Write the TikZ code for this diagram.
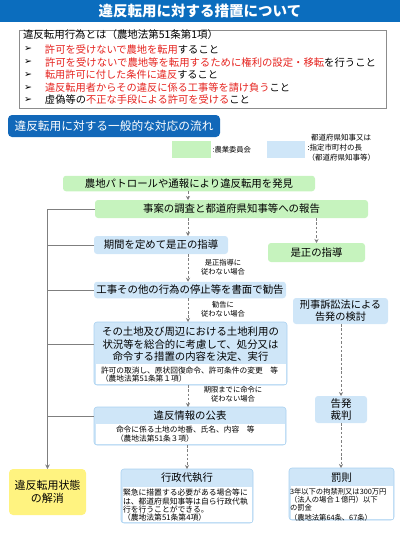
\documentclass[tikz,border=0pt]{standalone}
\usepackage{graphicx}
\usepackage{fontspec}
\setmainfont{Noto Sans CJK JP}
\newfontfamily\dejavu{DejaVu Sans}
\usetikzlibrary{arrows.meta}
\definecolor{barblue}{HTML}{0B6DBE}
\definecolor{hdblue}{HTML}{1268B9}
\definecolor{lgreen}{HTML}{C6F3BE}
\definecolor{lblue}{HTML}{CFE6F8}
\definecolor{bborder}{HTML}{A9D1F0}
\definecolor{lyellow}{HTML}{FFF380}
\definecolor{arrgray}{HTML}{7F7F7F}
\definecolor{framegray}{HTML}{8C8C8C}
\definecolor{redtxt}{HTML}{E5231F}
\newcommand\fitw[2]{\resizebox{#1pt}{!}{#2}}
\begin{document}
\begin{tikzpicture}[x=1pt,y=-1pt,
  every node/.style={inner sep=0pt, outer sep=0pt},
  gbox/.style={fill=lgreen, rounded corners=3pt, align=center},
  bbox/.style={fill=lblue, rounded corners=3pt, align=center},
  cbox/.style={fill=lblue, draw=bborder, line width=0.6pt, rounded corners=3pt},
  mid/.style={font=\fontsize{10.4}{12.5}\selectfont},
  hd/.style={font=\fontsize{10.3}{12}\selectfont, anchor=west},
  bul/.style={font=\dejavu\fontsize{9.5}{10}\selectfont, anchor=west},
  small/.style={font=\fontsize{7.7}{8.4}\selectfont, align=left, anchor=west},
  lbl/.style={font=\fontsize{7.3}{8.8}\selectfont, align=center},
  darr/.style={draw=arrgray, line width=0.8pt, dash pattern=on 2.5pt off 1.8pt, -{Stealth[length=4pt,width=4pt]}},
  sline/.style={draw=arrgray, line width=1pt},
]
\useasboundingbox (0,0) rectangle (400,533);
\coordinate (c188) at (188,0);
% title bar
\fill[barblue] (0,0) rectangle (400,21.5);
\node[text=white, font=\fontsize{14.5}{16}\selectfont\bfseries] (title) at (200,11) {違反転用に対する措置について};
% definition box
\node[draw=framegray, line width=0.8pt, minimum width=367pt, minimum height=78pt] (defbox) at (202.5,69) {};
\node[hd] (d0) at (23,35) {\fitw{195}{違反転用行為とは（農地法第51条第1項）}};
\node[bul] (b1) at (24,49.3) {➢};
\node[bul] (b2) at (24,62.3) {➢};
\node[bul] (b3) at (24,75) {➢};
\node[bul] (b4) at (24,87.5) {➢};
\node[bul] (b5) at (24,100) {➢};
\node[hd] (d1) at (45,49.3) {\fitw{174}{\textcolor{redtxt}{許可を受けないで農地を転用}すること}};
\node[hd] (d2) at (45,62.3) {\fitw{331}{\textcolor{redtxt}{許可を受けないで農地等を転用するために権利の設定・移転}を行うこと}};
\node[hd] (d3) at (45,75) {\fitw{173}{\textcolor{redtxt}{転用許可に付した条件に違反}すること}};
\node[hd] (d4) at (45,87.5) {\fitw{245}{\textcolor{redtxt}{違反転用者からその違反に係る工事等を請け負う}こと}};
\node[hd] (d5) at (45,100) {\fitw{205}{虚偽等の\textcolor{redtxt}{不正な手段による許可を受ける}こと}};
% section header
\node[fill=hdblue, rounded corners=4pt, minimum width=212pt, minimum height=22pt, text=white, font=\fontsize{11.7}{13}\selectfont] (flow) at (114,126) {違反転用に対する一般的な対応の流れ};
% legend
\node[fill=lgreen, minimum width=39pt, minimum height=17pt] (legG) at (191.5,149.5) {};
\node[font=\fontsize{7.3}{9}\selectfont, anchor=west] (legGt) at (212.5,150) {:農業委員会};
\node[fill=lblue, minimum width=38pt, minimum height=17pt] (legB) at (286,149.5) {};
\node[font=\fontsize{7.5}{10}\selectfont, align=left, anchor=west] (legBt) at (307.5,148) {\hspace{3.5pt}都道府県知事又は\\:指定市町村の長\\（都道府県知事等）};
% flow boxes
\node[gbox, mid, minimum width=252pt, minimum height=15.5pt] (find) at (189,183.5) {農地パトロールや通報により違反転用を発見};
\node[gbox, mid, minimum width=273pt, minimum height=18pt] (survey) at (231.5,209) {事案の調査と都道府県知事等への報告};
\node[bbox, mid, minimum width=134pt, minimum height=18pt] (guide) at (161,245) {期間を定めて是正の指導};
\node[gbox, mid, minimum width=97pt, minimum height=19pt] (correct) at (316.5,252.5) {是正の指導};
\node[bbox, mid, minimum width=192pt, minimum height=16.5pt] (recommend) at (190,290) {工事その他の行為の停止等を書面で勧告};
\node[bbox, font=\fontsize{10.2}{11.8}\selectfont, minimum width=95pt, minimum height=26pt] (criminal) at (340.5,311) {刑事訴訟法による\\告発の検討};
% decision composite
\node[cbox, minimum width=193pt, minimum height=63pt] (decision) at (190.5,353.5) {};
\fill[white] (95.5,364) rectangle (285.5,384);
\node[mid, align=center] (decisionT) at (190.5,344.5) {その土地及び周辺における土地利用の\\状況等を総合的に考慮して、処分又は\\命令する措置の内容を決定、実行};
\node[small] (decisionN) at (101,374.5) {許可の取消し、原状回復命令、許可条件の変更　等\\（農地法第51条第１項）};
% publish composite
\node[cbox, minimum width=192pt, minimum height=38pt] (publish) at (190,426) {};
\fill[white] (95.5,424) rectangle (284.5,444);
\node[mid] (publishT) at (190,416) {違反情報の公表};
\node[small] (publishN) at (116,434) {命令に係る土地の地番、氏名、内容　等\\（農地法第51条３項）};
% court
\node[bbox, font=\fontsize{10.5}{12}\selectfont, minimum width=52pt, minimum height=27pt] (court) at (341,409.5) {告発\\裁判};
% yellow
\node[fill=lyellow, rounded corners=4pt, align=center, font=\fontsize{11}{13}\selectfont, minimum width=77pt, minimum height=46pt] (yellow) at (47.5,492) {違反転用状態\\の解消};
% proxy composite
\node[cbox, minimum width=132pt, minimum height=54pt] (proxy) at (187,496) {};
\fill[white] (122.5,487) rectangle (251.5,521.5);
\node[mid] (proxyT) at (187,478) {行政代執行};
\node[small, font=\fontsize{7.8}{8.3}\selectfont] (proxyN) at (123,505.5) {緊急に措置する必要がある場合等に\\は、都道府県知事等は自ら行政代執\\行を行うことができる。\\（農地法第51条第4項）};
% penalty composite
\node[cbox, minimum width=105pt, minimum height=52pt] (penalty) at (341.5,494) {};
\fill[white] (290.5,486) rectangle (392.5,518.5);
\node[mid] (penaltyT) at (341.5,477.5) {罰則};
\node[small, font=\fontsize{7.3}{8}\selectfont] (penaltyN) at (290,505) {3年以下の拘禁刑又は300万円\\（法人の場合１億円）以下\\の罰金\\[1.5pt]（農地法第64条、67条）};
% labels
\node[lbl] (l1) at (223,267) {是正指導に\\従わない場合};
\node[lbl] (l2) at (223,309.5) {勧告に\\従わない場合};
\node[lbl] (l3) at (233,394.5) {期限までに命令に\\従わない場合};
% dashed arrows
\draw[darr] (find.south -| c188) -- (survey.north -| c188);
\draw[darr] (survey.south -| c188) -- (guide.north -| c188);
\draw[darr] (survey.south -| correct.north) -- (correct.north);
\draw[darr] (guide.south -| c188) -- (recommend.north -| c188);
\draw[darr] (recommend.south -| c188) -- (decision.north -| c188);
\draw[darr] (decision.south -| c188) -- (publish.north -| c188);
\draw[darr] (publish.south -| proxy.north) -- (proxy.north);
\draw[darr] (criminal.south -| court.north) -- (court.north);
\draw[darr] (court.south) -- (court.south |- penalty.north);
% solid spine
\draw[sline, -{Stealth[length=4.5pt,width=4.5pt]}] (survey.west) -| (yellow.north);
\draw[sline] (guide.west) -- (guide.west -| yellow.north);
\draw[sline] (recommend.west) -- (recommend.west -| yellow.north);
\draw[sline] (decision.west |- decisionT) -- (decisionT -| yellow.north);
\draw[sline] (publish.west |- publishT) -- (publishT -| yellow.north);
\end{tikzpicture}
\end{document}
